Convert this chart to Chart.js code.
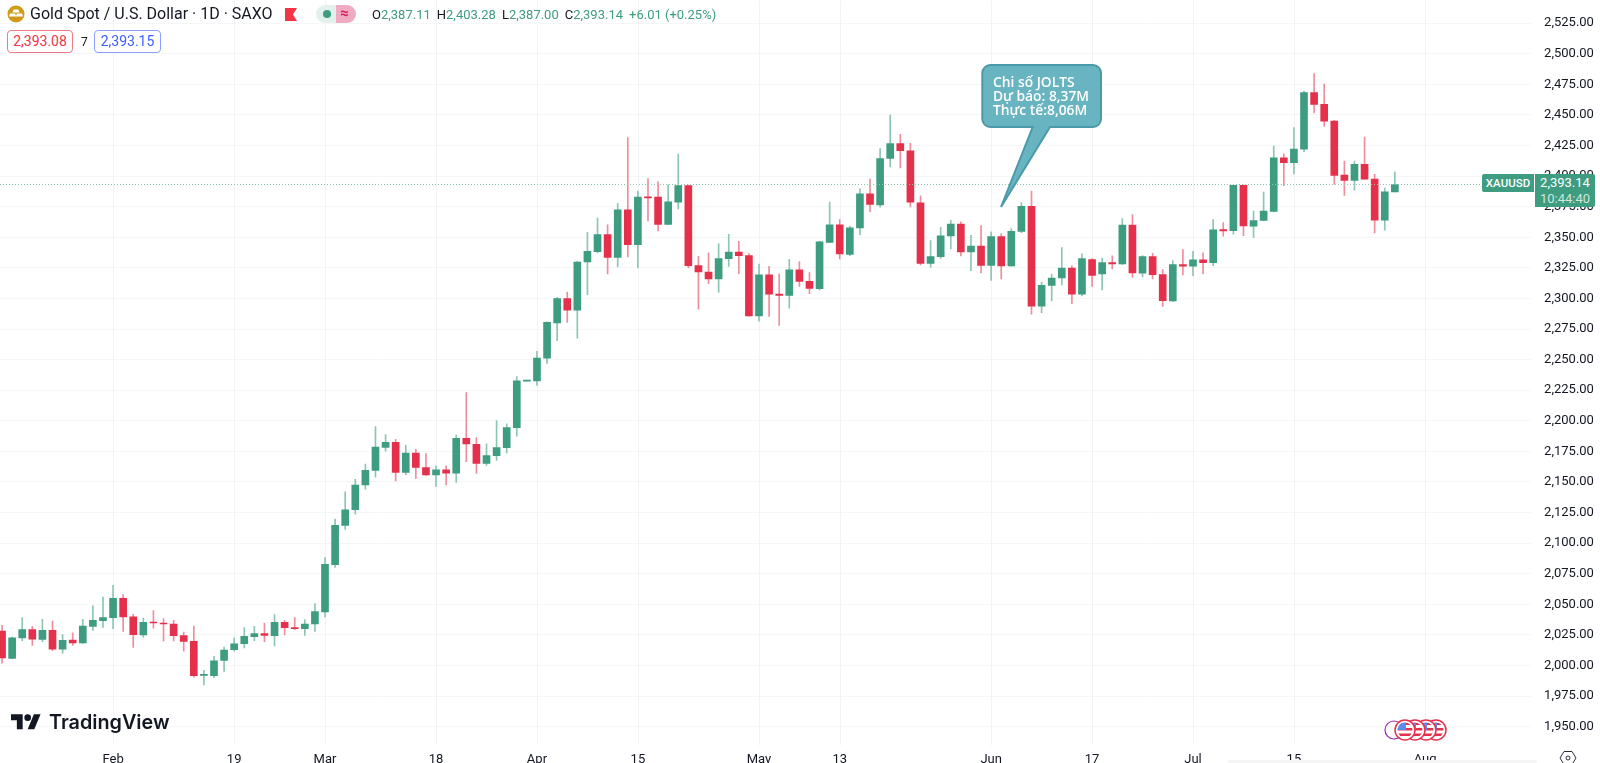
<!DOCTYPE html>
<html>
<head>
<meta charset="utf-8">
<title>Gold Spot / U.S. Dollar</title>
<script src="https://cdn.jsdelivr.net/npm/chart.js@4"></script>
<style>
  html, body { margin: 0; padding: 0; background: #fff; width: 1600px; height: 763px; overflow: hidden; }
  #myChart { position: absolute; left: -3px; top: -20px; }
  .txt { position: absolute; white-space: nowrap; font-family: Roboto, sans-serif; line-height: 1; }
  svg { position: absolute; overflow: visible; }
  .box { position: absolute; box-sizing: border-box; border-radius: 4px; background: #fff; text-align: center; font: 14px/21px Roboto, sans-serif; }
</style>
</head>
<body>
<canvas id="myChart" width="1603" height="786"></canvas>

<!-- header -->
<svg style="left:7px;top:5px" width="18" height="18">
  <circle cx="9" cy="9" r="8.5" fill="#cf9a17"/>
  <path d="M6.5 4.5h5l1 3h-7zM2.8 8.5h5.4l1 3H2zM9.8 8.5h5.4l.8 3H8.8z" fill="#fff"/>
</svg>
<div class="txt" style="left:30px;top:6px;font-size:16px;color:#131722">Gold Spot / U.S. Dollar · 1D · SAXO</div>
<svg style="left:285px;top:8px" width="13" height="13"><path d="M0 0H12L8 6.5 12 13H0z" fill="#f23645"/></svg>
<div style="position:absolute;left:316px;top:5px;width:20px;height:18px;background:#e3f1ec;border-radius:9px 0 0 9px"></div>
<div style="position:absolute;left:336px;top:5px;width:20px;height:18px;background:#efabc1;border-radius:0 9px 9px 0"></div>
<div style="position:absolute;left:323px;top:10px;width:8px;height:8px;background:#3e9c80;border-radius:50%"></div>
<div class="txt" style="left:340px;top:6px;font-size:15px;font-weight:700;color:#d81b60">≈</div>
<div class="txt" style="left:372px;top:8px;font-size:13px;color:#3e9c80" id="ohlc"></div>

<div class="box" style="left:7px;top:30px;width:66px;height:23px;border:1px solid #ee7a88;color:#e8344e">2,393.08</div>
<div class="txt" style="left:81px;top:36px;font-size:12px;color:#131722">7</div>
<div class="box" style="left:94px;top:30px;width:67px;height:23px;border:1px solid #8c9eff;color:#3f5efb">2,393.15</div>

<!-- callout -->
<svg style="left:0;top:0" width="1600" height="763">
  <path d="M990.3 65 H1093 a8 8 0 0 1 8 8 V119 a8 8 0 0 1 -8 8 H1050 L1001 207 L1032.7 127 H990.3 a8 8 0 0 1 -8 -8 V73 a8 8 0 0 1 8 -8z"
        fill="#68b4c0" stroke="#4a9aab" stroke-width="2"/>
</svg>
<div class="txt" style="left:993px;top:75px;font:600 13.8px/14px 'Open Sans',sans-serif;color:#fff">Chi số JOLTS<br>Dự báo: 8,37M<br>Thực tế:8,06M</div>

<!-- last price labels -->
<div class="txt" style="left:1482px;top:174px;width:52px;height:18px;line-height:18px;text-align:center;background:#3e9c80;color:#fff;font-size:11.5px;font-weight:500;border-radius:2px 0 0 2px">XAUUSD</div>
<div class="txt" style="left:1535px;top:174px;width:60px;height:33px;background:#3e9c80;color:#fff;font-size:13px;text-align:center;border-radius:0 2px 2px 0;line-height:16px;padding-top:1px;box-sizing:border-box">2,393.14<br><span style="color:#cfe6dd">10:44:40</span></div>

<!-- TradingView logo -->
<svg style="left:11px;top:711px" width="30" height="23.3" viewBox="0 0 36 28">
  <path d="M14 22H7V11H0V4h14v18zM28 22h-8l7.5-18h8L28 22z" fill="#131722"/><circle cx="20" cy="8" r="4" fill="#131722"/>
</svg>
<div class="txt" style="left:49px;top:710px;font:600 19.8px/24px Inter,sans-serif;color:#131722">TradingView</div>

<!-- event flags -->
<svg style="left:0;top:0" width="1600" height="763" id="flags"></svg>

<!-- settings icon and scrollbar strip -->
<svg style="left:1560px;top:750px" width="16" height="16">
  <path d="M4 1.5h8l4 6.5-4 6.5H4L0 8z" fill="none" stroke="#2a2e39" stroke-width="1"/><circle cx="8" cy="8" r="2" fill="none" stroke="#2a2e39"/>
</svg>
<div style="position:absolute;left:1228px;top:760px;width:309px;height:3px;background:#f5f5f6;border-radius:3px 3px 0 0"></div>

<script>
// trading days, Jan 17 to Aug 15
const categories = [
  '01-17','01-18','01-19','01-22','01-23','01-24','01-25','01-26','01-29','01-30','01-31',
  '02-01','02-02','02-05','02-06','02-07','02-08','02-09','02-12','02-13','02-14','02-15','02-16','02-19','02-20','02-21','02-22','02-23','02-26','02-27','02-28','02-29',
  '03-01','03-04','03-05','03-06','03-07','03-08','03-11','03-12','03-13','03-14','03-15','03-18','03-19','03-20','03-21','03-22','03-25','03-26','03-27','03-28','03-29',
  '04-01','04-02','04-03','04-04','04-05','04-08','04-09','04-10','04-11','04-12','04-15','04-16','04-17','04-18','04-19','04-22','04-23','04-24','04-25','04-26','04-29','04-30',
  '05-01','05-02','05-03','05-06','05-07','05-08','05-09','05-10','05-13','05-14','05-15','05-16','05-17','05-20','05-21','05-22','05-23','05-24','05-27','05-28','05-29','05-30','05-31',
  '06-03','06-04','06-05','06-06','06-07','06-10','06-11','06-12','06-13','06-14','06-17','06-18','06-19','06-20','06-21','06-24','06-25','06-26','06-27','06-28',
  '07-01','07-02','07-03','07-04','07-05','07-08','07-09','07-10','07-11','07-12','07-15','07-16','07-17','07-18','07-19','07-22','07-23','07-24','07-25','07-26','07-29','07-30','07-31',
  '08-01','08-02','08-05','08-06','08-07','08-08','08-09','08-12','08-13','08-14','08-15'
];

const tickLabels = {
  '02-01': 'Feb', '02-19': '19', '03-01': 'Mar', '03-18': '18', '04-01': 'Apr', '04-15': '15',
  '05-01': 'May', '05-13': '13', '06-03': 'Jun', '06-17': '17', '07-01': 'Jul', '07-15': '15', '08-01': 'Aug'
};

const opens = [
  2028.2,2005.8,2022.5,2029.3,2021.4,2028.7,2013.4,2020.8,2018.4,2032.0,2036.7,
  2039.1,2054.9,2039.7,2024.9,2035.3,2034.5,2033.9,2024.4,2019.7,1991.9,1991.6,2004.2,2012.9,2017.8,2023.5,2026.0,2024.4,2035.3,2030.9,2030.1,2033.9,
  2043.7,2082.5,2114.5,2127.3,2147.5,2159.5,2178.3,2182.4,2157.9,2173.7,2161.7,2155.7,2160.0,2157.3,2185.7,2180.8,2165.2,2171.5,2178.1,2194.4,2232.4,
  2232.7,2251.2,2280.1,2300.0,2290.5,2329.8,2338.3,2352.2,2333.6,2372.4,2344.0,2382.8,2382.8,2360.6,2378.7,2392.3,2326.8,2321.6,2315.9,2332.5,2338.0,2335.0,
  2285.8,2319.4,2303.6,2302.5,2323.5,2314.0,2308.0,2345.9,2360.1,2336.1,2357.7,2385.5,2376.5,2414.4,2426.5,2420.7,2378.1,2328.7,2334.2,2351.1,2360.7,2338.0,2342.9,
  2327.1,2350.6,2326.6,2354.9,2375.4,2293.8,2310.7,2316.7,2324.9,2303.6,2331.8,2320.0,2329.3,2328.2,2359.9,2320.6,2334.2,2319.5,2297.9,2327.7,
  2326.3,2331.5,2329.3,2356.3,2355.5,2392.4,2359.1,2363.7,2371.1,2415.0,2410.9,2422.1,2468.3,2458.7,2445.0,2400.8,2396.5,2409.6,2397.6,2364.0,2387.11
];
const highs = [
  2032.8,2023.3,2039.1,2032.0,2037.7,2036.4,2025.2,2026.6,2037.7,2048.7,2056.0,
  2065.6,2057.9,2041.8,2038.8,2044.8,2038.3,2036.9,2027.4,2032.3,1996.0,2007.4,2015.1,2022.5,2030.9,2032.0,2034.7,2041.6,2036.9,2039.1,2037.5,2050.6,
  2088.2,2119.7,2142.0,2152.2,2164.7,2195.3,2188.7,2184.9,2180.0,2176.7,2173.2,2163.3,2163.3,2188.4,2223.1,2186.3,2181.1,2200.2,2197.5,2236.2,2232.9,
  2256.7,2280.9,2300.9,2305.2,2330.3,2354.1,2365.6,2360.1,2377.6,2431.4,2387.7,2398.0,2395.3,2392.9,2418.0,2392.6,2334.4,2337.2,2344.8,2352.5,2346.7,2336.6,
  2328.2,2326.2,2320.2,2332.0,2330.1,2321.1,2346.7,2378.7,2364.5,2359.0,2389.9,2397.5,2422.6,2449.9,2434.1,2426.7,2383.9,2347.3,2358.2,2363.9,2362.6,2351.7,2359.6,
  2354.4,2353.0,2357.1,2378.4,2387.7,2313.4,2320.0,2341.6,2326.6,2336.4,2332.6,2333.1,2334.8,2365.3,2368.6,2335.0,2336.9,2323.6,2330.9,2339.9,
  2338.6,2337.2,2364.5,2362.0,2392.6,2392.6,2371.4,2386.9,2424.6,2418.3,2439.6,2469.6,2483.8,2475.4,2445.6,2412.3,2412.3,2432.0,2401.4,2390.2,2403.28
];
const lows = [
  2002.0,2005.5,2020.3,2016.4,2019.5,2012.1,2009.9,2016.4,2018.1,2028.7,2031.2,
  2030.1,2027.9,2014.8,2023.0,2030.6,2020.0,2020.0,2011.8,1990.5,1984.2,1990.0,1995.2,2011.8,2014.3,2020.3,2019.5,2015.9,2024.9,2029.3,2024.6,2027.9,
  2039.7,2080.1,2111.2,2123.7,2144.2,2154.0,2175.1,2150.8,2156.0,2153.0,2155.4,2146.4,2147.5,2149.7,2166.6,2157.0,2163.6,2167.7,2173.7,2187.4,2232.4,
  2228.9,2246.9,2265.6,2280.4,2267.6,2303.0,2337.2,2320.0,2325.7,2333.9,2324.9,2363.4,2355.2,2360.4,2373.2,2324.9,2291.3,2312.0,2305.0,2326.2,2320.2,2285.6,
  2281.5,2285.3,2277.9,2292.1,2309.9,2303.9,2306.9,2345.6,2332.3,2335.0,2352.0,2371.0,2374.6,2407.6,2406.8,2374.9,2327.4,2325.4,2332.8,2340.5,2334.7,2322.7,2320.8,
  2314.8,2315.9,2326.3,2353.8,2287.2,2288.3,2297.9,2311.0,2295.7,2302.0,2309.9,2306.9,2324.1,2327.9,2317.3,2317.6,2315.9,2293.5,2297.4,2319.2,
  2318.6,2320.0,2326.8,2350.9,2352.5,2351.4,2349.8,2363.4,2370.8,2392.1,2401.7,2419.9,2451.6,2440.7,2393.5,2384.2,2388.5,2397.3,2353.6,2355.8,2387.00
];
const closes = [
  2006.1,2022.7,2029.3,2021.6,2028.7,2013.4,2020.5,2018.4,2032.3,2036.9,2039.1,
  2054.9,2039.7,2025.2,2035.3,2034.7,2033.9,2024.4,2019.7,1991.6,1992.4,2003.9,2012.6,2017.8,2023.8,2026.0,2024.6,2035.3,2030.9,2030.1,2033.9,2044.0,
  2082.7,2114.5,2127.3,2147.5,2159.5,2178.6,2182.4,2157.9,2173.7,2162.0,2155.7,2160.0,2157.3,2185.7,2181.1,2165.2,2171.5,2178.1,2194.4,2232.7,2232.9,
  2251.2,2280.4,2300.0,2290.5,2329.8,2338.5,2352.2,2333.6,2372.4,2344.0,2382.8,2382.2,2360.6,2378.9,2392.3,2326.8,2321.6,2315.9,2332.5,2338.0,2335.0,2285.8,
  2319.4,2303.6,2302.5,2323.5,2314.0,2308.2,2346.2,2360.1,2336.4,2357.7,2385.5,2376.8,2414.4,2426.5,2420.7,2378.7,2328.7,2334.2,2351.1,2360.7,2338.0,2342.9,2327.1,
  2350.6,2326.6,2354.9,2375.4,2293.8,2310.7,2316.7,2324.9,2303.6,2332.6,2318.9,2329.3,2328.2,2359.9,2320.8,2334.2,2319.5,2298.2,2327.7,2326.3,
  2331.5,2329.3,2356.0,2355.2,2392.4,2359.3,2363.7,2371.4,2415.0,2410.9,2422.1,2468.3,2458.7,2445.0,2400.6,2396.5,2409.6,2397.6,2364.0,2387.2,2393.14
];

const lastClose = 2393.14;
const changeText = '+6.01 (+0.25%)';

const upColor = '#3e9c80';
const downColor = '#e5304c';
const upWick = '#8cc5b2';
const downWick = '#f08d9b';

document.getElementById('ohlc').innerHTML =
  ['O', 'H', 'L', 'C'].map(function(k, n) {
    const v = [opens, highs, lows, closes][n][opens.length - 1];
    return '<span style="color:#131722">' + k + '</span>' + v.toFixed(2).replace(/^(\d)(\d{3})/, '$1,$2') + '<span style="display:inline-block;width:6px"></span>';
  }).join('') + changeText;

const isUp = opens.map(function(o, i) { return closes[i] >= o; });

// vertical grid only at the labelled days, the scale's own grid skipped most of them
const dayGrid = {
  id: 'dayGrid',
  beforeDatasetsDraw(chart) {
    const c = chart.ctx;
    const area = chart.chartArea;
    c.save();
    c.strokeStyle = '#f2f3f5';
    c.lineWidth = 1;
    categories.forEach(function(day, i) {
      if (!tickLabels[day]) return;
      const x = Math.round(chart.scales.x.getPixelForValue(i)) + 0.5;
      c.beginPath();
      c.moveTo(x, area.top);
      c.lineTo(x, area.bottom);
      c.stroke();
    });
    c.restore();
  }
};

// draws the dotted last price line
const lastLine = {
  id: 'lastLine',
  afterDatasetsDraw(chart) {
    const y = chart.scales.y.getPixelForValue(lastClose);
    const c = chart.ctx;
    c.save();
    c.strokeStyle = '#8cc5b2';
    c.setLineDash([1, 2]);
    c.beginPath();
    c.moveTo(chart.chartArea.left, y);
    c.lineTo(chart.chartArea.right, y);
    c.stroke();
    c.restore();
  }
};

new Chart(document.getElementById('myChart').getContext('2d'), {
  type: 'bar',
  data: {
    labels: categories,
    datasets: [
      {
        label: 'body',
        data: opens.map(function(o, i) { return [o, closes[i]]; }),
        backgroundColor: isUp.map(function(u) { return u ? upColor : downColor; }),
        barThickness: 7,
        minBarLength: 1,
        grouped: false
      },
      {
        label: 'wick',
        data: lows.map(function(l, i) { return [l, highs[i]]; }),
        backgroundColor: isUp.map(function(u) { return u ? upWick : downWick; }),
        barThickness: 1,
        grouped: false
      }
    ]
  },
  options: {
    responsive: false,
    animation: false,
    plugins: { legend: { display: false }, tooltip: { enabled: false } },
    layout: { padding: 0 },
    scales: {
      x: {
        type: 'category',
        afterFit(scale) { scale.height = 20; },
        border: { display: false },
        grid: { display: false, drawTicks: false },
        ticks: {
          autoSkip: false,
          maxRotation: 0,
          padding: 7,
          color: '#131722',
          font: { family: 'Roboto', size: 13 },
          callback(value) { return tickLabels[this.getLabelForValue(value)] || null; }
        }
      },
      y: {
        position: 'right',
        min: 1934.85,
        max: 2543.3,
        afterFit(scale) { scale.width = 68.9; },
        border: { display: false },
        grid: { drawTicks: false, color: '#f5f6f7' },
        ticks: {
          stepSize: 25,
          includeBounds: false,
          padding: 13,
          color: '#131722',
          font: { family: 'Roboto', size: 13 },
          callback(value) { return value.toLocaleString('en-US', { minimumFractionDigits: 2, maximumFractionDigits: 2 }); }
        }
      }
    }
  },
  plugins: [dayGrid, lastLine]
});

// small US flag event badges, back to front
const flagSvg = document.getElementById('flags');
let flagHtml = '<circle cx="1394" cy="730" r="9" fill="#fff" stroke="#9c27b0" stroke-width="1.2"/>';
[1436, 1426, 1415, 1405].forEach(function(cx, n) {
  flagHtml += '<circle cx="' + cx + '" cy="730" r="10" fill="#fff" stroke="#e5304c" stroke-width="1.5"/>' +
    '<clipPath id="fc' + n + '"><circle cx="' + cx + '" cy="730" r="7.5"/></clipPath>' +
    '<g clip-path="url(#fc' + n + ')"><rect x="' + (cx - 8) + '" y="722" width="16" height="16" fill="#fff"/>' +
    '<rect x="' + (cx - 8) + '" y="722.5" width="16" height="2.5" fill="#e5304c"/>' +
    '<rect x="' + (cx - 8) + '" y="728" width="16" height="2.5" fill="#e5304c"/>' +
    '<rect x="' + (cx - 8) + '" y="733.5" width="16" height="2.5" fill="#e5304c"/>' +
    '<rect x="' + (cx - 8) + '" y="722" width="9" height="8" fill="#5b8def"/></g>';
});
flagSvg.innerHTML = flagHtml;
</script>
</body>
</html>
